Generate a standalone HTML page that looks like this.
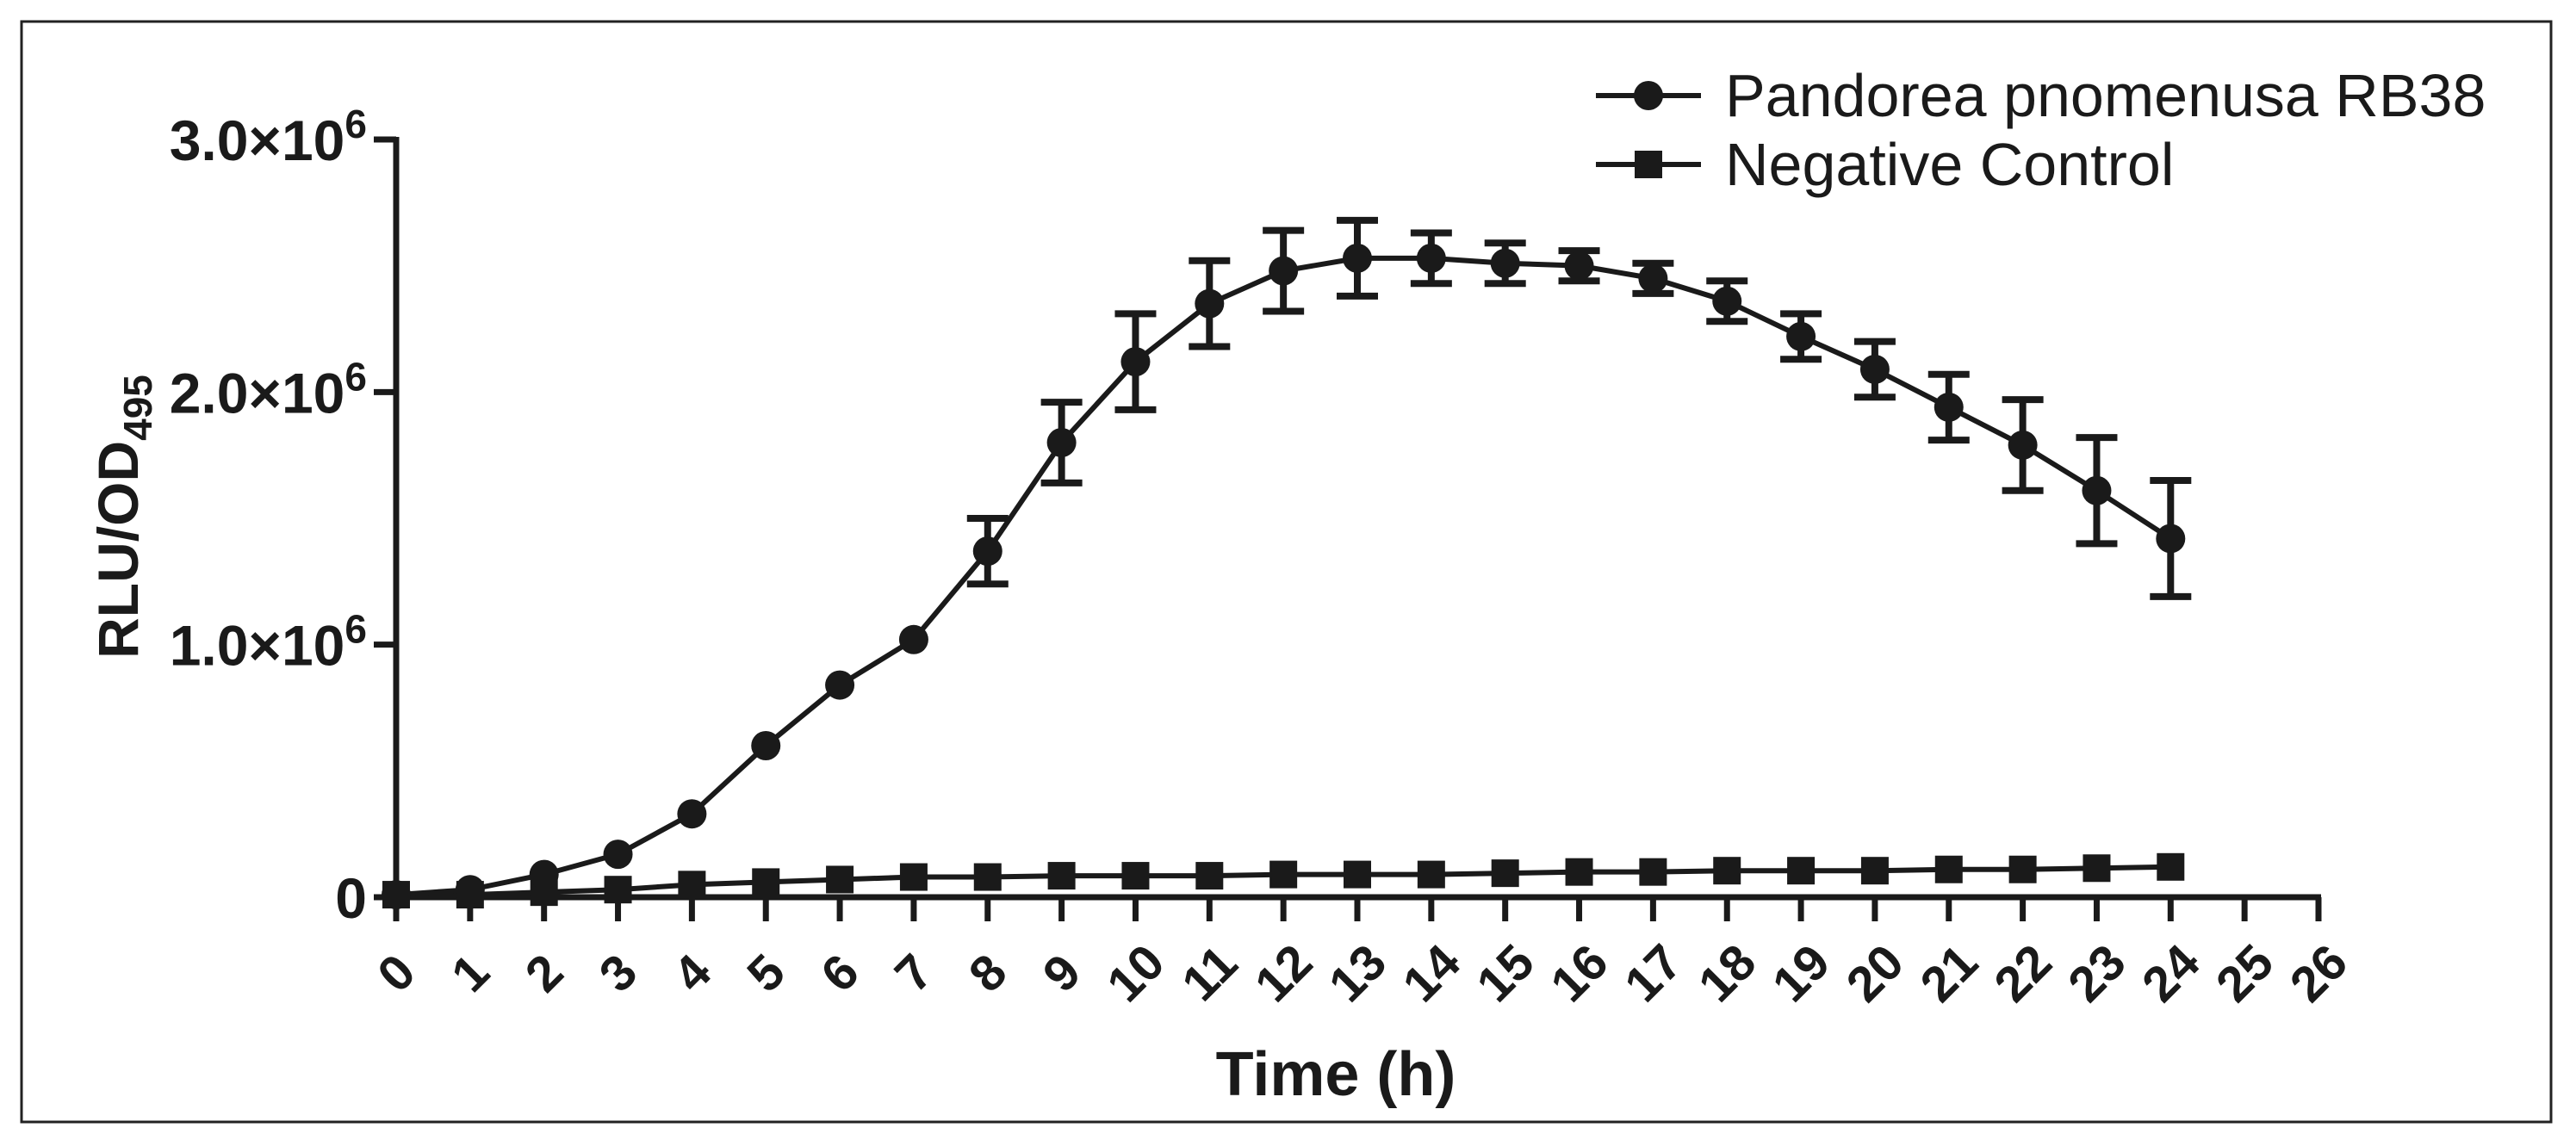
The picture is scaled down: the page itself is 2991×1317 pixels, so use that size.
<!DOCTYPE html>
<html><head><meta charset="utf-8"><style>
html,body{margin:0;padding:0;background:#fff;}
svg{display:block;font-family:"Liberation Sans",Arial,sans-serif;}
</style></head><body>
<svg id="chart" width="2991" height="1317" viewBox="0 0 2991 1317">
<rect x="25" y="25" width="2937" height="1278" fill="#fff" stroke="#222" stroke-width="3"/>
<g id="axes"></g><g id="series"></g>
<text x="160" y="600" transform="rotate(-90 160 600)" text-anchor="middle" font-size="66" font-weight="bold" fill="#1a1a1a">RLU/OD<tspan font-size="46" dy="16">495</tspan></text>
<text x="1551" y="1272" text-anchor="middle" font-size="72" font-weight="bold" fill="#1a1a1a">Time (h)</text>
<g>
<line x1="1853" y1="111" x2="1975" y2="111" stroke="#1a1a1a" stroke-width="6"/>
<circle cx="1914" cy="111" r="17" fill="#1a1a1a"/>
<text x="2003" y="135" font-size="70" fill="#1a1a1a">Pandorea pnomenusa RB38</text>
<line x1="1853" y1="191" x2="1975" y2="191" stroke="#1a1a1a" stroke-width="6"/>
<rect x="1898" y="175" width="32" height="32" fill="#1a1a1a"/>
<text x="2003" y="215" font-size="70" fill="#1a1a1a">Negative Control</text>
</g>
</svg>
<script>
const hours=[0,1,2,3,4,5,6,7,8,9,10,11,12,13,14,15,16,17,18,19,20,21,22,23,24];
const rb38=[0.01,0.03,0.09,0.17,0.33,0.60,0.84,1.02,1.37,1.80,2.12,2.35,2.48,2.53,2.53,2.51,2.50,2.45,2.36,2.22,2.09,1.94,1.79,1.61,1.42];
const rb38Err=[0,0,0,0,0,0,0,0,0.13,0.16,0.19,0.17,0.16,0.15,0.10,0.08,0.06,0.06,0.08,0.09,0.11,0.13,0.18,0.21,0.23];
const control=[0.01,0.01,0.02,0.03,0.05,0.06,0.07,0.08,0.08,0.085,0.085,0.085,0.09,0.09,0.09,0.095,0.10,0.10,0.105,0.105,0.105,0.11,0.11,0.115,0.12];
const xTicks=[0,1,2,3,4,5,6,7,8,9,10,11,12,13,14,15,16,17,18,19,20,21,22,23,24,25,26];
const yTicks=[0,1,2,3];
const yTickMain=["0","1.0×10","2.0×10","3.0×10"];
const yTickExp=["","6","6","6"];
const NS="http://www.w3.org/2000/svg";
const X=v=>460+v*(2692-460)/26;
const Y=v=>1042-v*(1042-162)/3;
function mk(tag,attrs,parent){const e=document.createElementNS(NS,tag);for(const k in attrs)e.setAttribute(k,attrs[k]);parent.appendChild(e);return e;}
const ax=document.getElementById('axes'),sg=document.getElementById('series');
let a=mk('line',{x1:X(0),y1:Y(3)-3,x2:X(0),y2:Y(0)+3,stroke:'#1a1a1a','stroke-width':7},ax);

a=mk('line',{x1:X(0)-3,y1:Y(0),x2:X(26)+3,y2:Y(0),stroke:'#1a1a1a','stroke-width':7},ax);

yTicks.forEach((t,i)=>{
 const l=mk('line',{x1:X(0)-26,y1:Y(t),x2:X(0),y2:Y(t),stroke:'#1a1a1a','stroke-width':7},ax);
 
 const tx=mk('text',{x:X(0)-34,y:Y(t)+24,'text-anchor':'end','font-size':66,'font-weight':'bold',fill:'#1a1a1a'},ax);
 tx.textContent=yTickMain[i];
 if(yTickExp[i]){const s=mk('tspan',{'font-size':46,dy:-26},tx);s.textContent=yTickExp[i];}
 
});
xTicks.forEach(t=>{
 const l=mk('line',{x1:X(t),y1:Y(0),x2:X(t),y2:Y(0)+28,stroke:'#1a1a1a','stroke-width':7},ax);
 
 const cx=X(t),cy=Y(0)+88;
 const tx=mk('text',{x:cx,y:cy+20,'text-anchor':'middle','font-size':58,'font-weight':'bold',fill:'#1a1a1a',transform:`rotate(-45 ${cx} ${cy})`},ax);
 tx.textContent=String(t);
 
});
let p=mk('polyline',{points:hours.map((h,i)=>X(h)+','+Y(control[i])).join(' '),fill:'none',stroke:'#1a1a1a','stroke-width':6},sg);

hours.forEach((h,i)=>{const r=mk('rect',{x:X(h)-16,y:Y(control[i])-16,width:32,height:32,fill:'#1a1a1a'},sg);
 });
p=mk('polyline',{points:hours.map((h,i)=>X(h)+','+Y(rb38[i])).join(' '),fill:'none',stroke:'#1a1a1a','stroke-width':6},sg);

hours.forEach((h,i)=>{
 const e=rb38Err[i];
 if(e>0){
  const g=mk('path',{d:`M${X(h)} ${Y(rb38[i]+e)}V${Y(rb38[i]-e)}M${X(h)-24} ${Y(rb38[i]+e)}h48M${X(h)-24} ${Y(rb38[i]-e)}h48`,stroke:'#1a1a1a','stroke-width':8,fill:'none'},sg);
  
 }
 const c=mk('circle',{cx:X(h),cy:Y(rb38[i]),r:17,fill:'#1a1a1a'},sg);
 
});
</script>
</body></html>
